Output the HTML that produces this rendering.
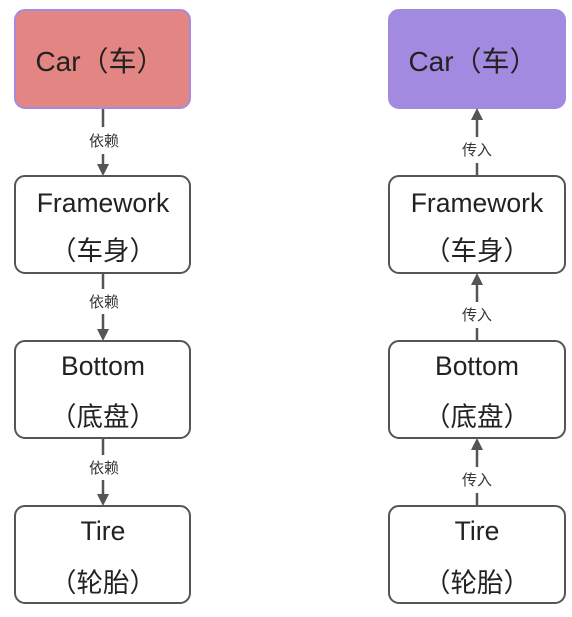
<!DOCTYPE html>
<html><head><meta charset="utf-8"><style>
body{margin:0;background:#fff;}
svg{display:block;font-family:"Liberation Sans","Noto Sans CJK SC",sans-serif;}
</style></head><body>
<svg width="572" height="617" viewBox="0 0 572 617">
<defs><marker id="ah" markerWidth="12" markerHeight="12" refX="6" refY="6" orient="auto" markerUnits="userSpaceOnUse"><path d="M0,0 L12,6 L0,12 z" fill="#555"/></marker></defs>
<g>
<rect x="15" y="10" width="175" height="98" rx="10" fill="#e38582" stroke="#a58ae0" stroke-width="2"/>
<text x="100" y="71" font-size="28" text-anchor="middle" fill="#222">Car（车）</text>
<rect x="15" y="176" width="175" height="97" rx="10" fill="#fff" stroke="#555" stroke-width="2"/>
<text x="103" y="212" font-size="26.5" text-anchor="middle" fill="#222">Framework</text>
<text x="103" y="260" font-size="26.5" text-anchor="middle" fill="#222">（车身）</text>
<rect x="15" y="341" width="175" height="97" rx="10" fill="#fff" stroke="#555" stroke-width="2"/>
<text x="103" y="375" font-size="26.5" text-anchor="middle" fill="#222">Bottom</text>
<text x="103" y="426" font-size="26.5" text-anchor="middle" fill="#222">（底盘）</text>
<rect x="15" y="506" width="175" height="97" rx="10" fill="#fff" stroke="#555" stroke-width="2"/>
<text x="103" y="540" font-size="26.5" text-anchor="middle" fill="#222">Tire</text>
<text x="103" y="592" font-size="26.5" text-anchor="middle" fill="#222">（轮胎）</text>
<g stroke="#555" stroke-width="2.5">
<line x1="103" y1="109" x2="103" y2="127"/><line x1="103" y1="154" x2="103" y2="170" marker-end="url(#ah)"/>
<line x1="103" y1="274" x2="103" y2="289"/><line x1="103" y1="314" x2="103" y2="335" marker-end="url(#ah)"/>
<line x1="103" y1="439" x2="103" y2="455"/><line x1="103" y1="480" x2="103" y2="500" marker-end="url(#ah)"/>
</g>
<text x="104" y="146" font-size="15" text-anchor="middle" fill="#333">依赖</text>
<text x="104" y="307" font-size="15" text-anchor="middle" fill="#333">依赖</text>
<text x="104" y="473" font-size="15" text-anchor="middle" fill="#333">依赖</text>
</g>
<g>
<rect x="389" y="10" width="176" height="98" rx="10" fill="#a28ae0" stroke="#a28ae0" stroke-width="2"/>
<text x="473" y="71" font-size="28" text-anchor="middle" fill="#222">Car（车）</text>
<rect x="389" y="176" width="176" height="97" rx="10" fill="#fff" stroke="#555" stroke-width="2"/>
<text x="477" y="212" font-size="26.5" text-anchor="middle" fill="#222">Framework</text>
<text x="477" y="260" font-size="26.5" text-anchor="middle" fill="#222">（车身）</text>
<rect x="389" y="341" width="176" height="97" rx="10" fill="#fff" stroke="#555" stroke-width="2"/>
<text x="477" y="375" font-size="26.5" text-anchor="middle" fill="#222">Bottom</text>
<text x="477" y="426" font-size="26.5" text-anchor="middle" fill="#222">（底盘）</text>
<rect x="389" y="506" width="176" height="97" rx="10" fill="#fff" stroke="#555" stroke-width="2"/>
<text x="477" y="540" font-size="26.5" text-anchor="middle" fill="#222">Tire</text>
<text x="477" y="592" font-size="26.5" text-anchor="middle" fill="#222">（轮胎）</text>
<g stroke="#555" stroke-width="2.5">
<line x1="477" y1="175" x2="477" y2="163"/><line x1="477" y1="137" x2="477" y2="114" marker-end="url(#ah)"/>
<line x1="477" y1="340" x2="477" y2="328"/><line x1="477" y1="302" x2="477" y2="279" marker-end="url(#ah)"/>
<line x1="477" y1="505" x2="477" y2="493"/><line x1="477" y1="467" x2="477" y2="444" marker-end="url(#ah)"/>
</g>
<text x="477" y="155" font-size="15" text-anchor="middle" fill="#333">传入</text>
<text x="477" y="320" font-size="15" text-anchor="middle" fill="#333">传入</text>
<text x="477" y="485" font-size="15" text-anchor="middle" fill="#333">传入</text>
</g>
</svg>
</body></html>
